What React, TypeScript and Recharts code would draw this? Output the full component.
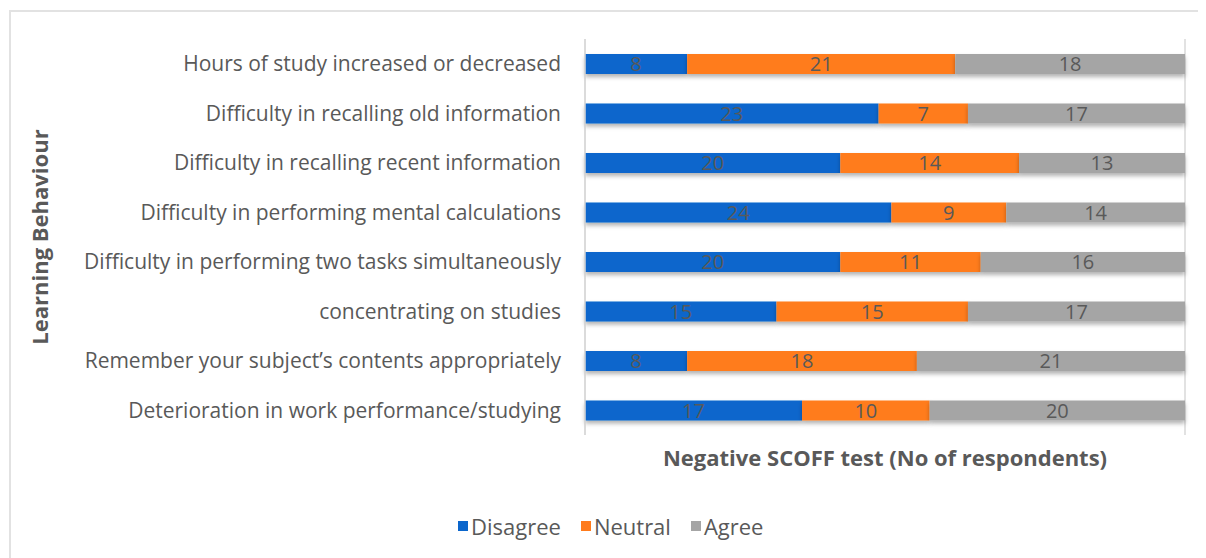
import React from 'react';
import {
  BarChart,
  Bar,
  XAxis,
  YAxis,
  CartesianGrid,
  LabelList,
  Label,
} from 'recharts';

// categories top to bottom, as printed in the chart
const behaviours = [
  'Hours of study increased or decreased',
  'Difficulty in recalling old information',
  'Difficulty in recalling recent information',
  'Difficulty in performing mental calculations',
  'Difficulty in performing two tasks simultaneously',
  'concentrating on studies',
  'Remember your subject\u2019s contents appropriately',
  'Deterioration in work performance/studying',
];

const disagree = [8, 23, 20, 24, 20, 15, 8, 17];
const neutral = [21, 7, 14, 9, 11, 15, 18, 10];
const agree = [18, 17, 13, 14, 16, 17, 21, 20];

const seriesNames = ['Disagree', 'Neutral', 'Agree'];
const seriesColors = ['#0b66cc', '#ff7b1c', '#a5a5a5'];

const FONT = '"Open Sans", Lato, sans-serif';
const GRAY = '#595959';

const data = behaviours.map((name, i) => ({
  name,
  Disagree: disagree[i],
  Neutral: neutral[i],
  Agree: agree[i],
}));

// 100% stacked look: every row totals the same number of respondents
const total = Math.max(...data.map(d => d.Disagree + d.Neutral + d.Agree));
const gridTicks = Array.from({ length: 11 }, (_, i) => (total * i) / 10);

const YTitle = ({ viewBox }: any) => {
  const cy = viewBox.y + viewBox.height / 2;
  return (
    <text
      x={31}
      y={cy}
      transform={`rotate(-90, 31, ${cy})`}
      textAnchor="middle"
      dominantBaseline="central"
      fill={GRAY}
      fontFamily={FONT}
      fontWeight={700}
      fontSize={22}
    >
      Learning Behaviour
    </text>
  );
};

const XTitle = ({ viewBox }: any) => (
  <text
    x={viewBox.x + viewBox.width / 2}
    y={viewBox.y + 31}
    textAnchor="middle"
    fill={GRAY}
    fontFamily={FONT}
    fontWeight={700}
    fontSize={22}
  >
    Negative SCOFF test (No of respondents)
  </text>
);

const ChartLegend = () => (
  <div
    style={{
      position: 'absolute',
      left: 450,
      top: 503,
      display: 'flex',
      gap: 20,
      fontFamily: FONT,
      fontSize: 22,
      color: GRAY,
    }}
  >
    {seriesNames.map((s, i) => (
      <span key={s} style={{ display: 'flex', alignItems: 'center' }}>
        <span style={{ width: 10, height: 10, background: seriesColors[i], marginRight: 3, display: 'inline-block' }} />
        {s}
      </span>
    ))}
  </div>
);

const App = () => {
  return (
    <div style={{ position: 'relative', width: 1198, height: 550 }}>
      <div
        style={{
          position: 'absolute',
          left: 1,
          top: 2,
          width: 1300,
          height: 600,
          borderLeft: '2px solid #e2e2e2',
          borderTop: '2px solid #e2e2e2',
        }}
      />
      <BarChart
        width={1190}
        height={540}
        data={data}
        layout="vertical"
        barSize={20}
        margin={{ top: 31, right: 13, left: 0, bottom: 63 }}
      >
        <defs>
          <filter id="barShadow" x="-5%" y="-30%" width="110%" height="190%">
            <feDropShadow dx="0" dy="3" stdDeviation="2" floodColor="#000" floodOpacity="0.3" />
          </filter>
        </defs>
        <CartesianGrid horizontal={false} stroke="#d9d9d9" strokeWidth={1.5} />
        <XAxis
          type="number"
          domain={[0, total]}
          ticks={gridTicks}
          tick={false}
          tickLine={false}
          axisLine={false}
          height={50}
        >
          <Label content={<XTitle />} />
        </XAxis>
        <YAxis
          type="category"
          dataKey="name"
          width={577}
          tickLine={false}
          tickMargin={18}
          axisLine={{ stroke: '#d9d9d9', strokeWidth: 1.5 }}
          tick={{ fill: GRAY, fontSize: 21, fontFamily: FONT }}
          interval={0}
        >
          <Label content={<YTitle />} />
        </YAxis>
        {seriesNames.map((s, i) => (
          <Bar
            key={s}
            dataKey={s}
            stackId="a"
            fill={seriesColors[i]}
            isAnimationActive={false}
            filter="url(#barShadow)"
          >
            <LabelList
              dataKey={s}
              position="center"
              fill={GRAY}
              fontSize={20}
              fontFamily={FONT}
            />
          </Bar>
        ))}
      </BarChart>
      <ChartLegend />
    </div>
  );
};

export default App;
